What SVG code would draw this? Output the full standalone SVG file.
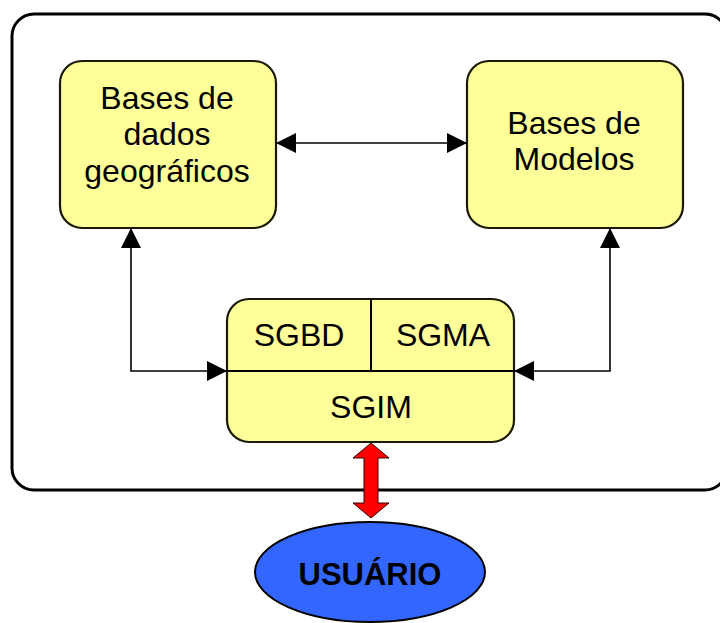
<svg xmlns="http://www.w3.org/2000/svg" width="720" height="623" viewBox="0 0 720 623">
  <style>
    .frame { fill: none; stroke: #000; stroke-width: 3; }
    .box { fill: #FFFF99; stroke: #1a1a00; stroke-width: 2.2; }
    .div { fill: none; stroke: #000; stroke-width: 2; }
    .lbl { font-family: "Liberation Sans", Arial, sans-serif; font-size: 32px; fill: #000; text-anchor: middle; }
    .link { fill: none; stroke: #000; stroke-width: 1.6; }
    .user { font-family: "Liberation Sans", Arial, sans-serif; font-size: 31px; font-weight: bold; fill: #000; text-anchor: middle; }
  </style>
  <defs>
    <marker id="tri" viewBox="0 0 20 20" refX="20" refY="10" markerWidth="20" markerHeight="20" markerUnits="userSpaceOnUse" orient="auto-start-reverse">
      <path d="M0,0 L20,10 L0,20 Z" fill="#000"/>
    </marker>
  </defs>

  <rect width="720" height="623" fill="#fff"/>

  <!-- system boundary -->
  <rect class="frame" x="12" y="14" width="715" height="476" rx="22" ry="22"/>

  <g id="bases-dados">
    <rect class="box" x="60" y="61" width="216" height="167" rx="22" ry="22"/>
    <text class="lbl" x="167" y="109">Bases de</text>
    <text class="lbl" x="167" y="145">dados</text>
    <text class="lbl" x="167" y="182">geográficos</text>
  </g>

  <g id="bases-modelos">
    <rect class="box" x="467" y="61" width="216" height="167" rx="22" ry="22" stroke="#000"/>
    <text class="lbl" x="574" y="134">Bases de</text>
    <text class="lbl" x="574" y="170">Modelos</text>
  </g>

  <g id="sgim">
    <rect class="box" x="227" y="299" width="287" height="143" rx="22" ry="22" stroke="#000"/>
    <line class="div" x1="227" y1="371" x2="514" y2="371"/>
    <line class="div" x1="371" y1="299" x2="371" y2="371"/>
    <text class="lbl" x="299" y="346">SGBD</text>
    <text class="lbl" x="443" y="346">SGMA</text>
    <text class="lbl" x="371" y="418">SGIM</text>
  </g>

  <g id="usuario">
    <ellipse cx="370" cy="572" rx="115" ry="50" fill="#3366FF" stroke="#000" stroke-width="2"/>
    <text class="user" x="370" y="585">USUÁRIO</text>
  </g>

  <g id="connectors">
    <line class="link" x1="276" y1="143" x2="467" y2="143" marker-start="url(#tri)" marker-end="url(#tri)"/>
    <polyline class="link" points="131,228 131,371 227,371" marker-start="url(#tri)" marker-end="url(#tri)"/>
    <polyline class="link" points="610,228 610,371 514,371" marker-start="url(#tri)" marker-end="url(#tri)"/>
    <!-- user <-> SGIM block arrow -->
    <path d="M371,443 L389,458 L378,458 L378,503 L389,503 L371,518 L353,503 L364,503 L364,458 L353,458 Z" fill="#FF0000" stroke="#330000" stroke-width="1"/>
  </g>
</svg>
